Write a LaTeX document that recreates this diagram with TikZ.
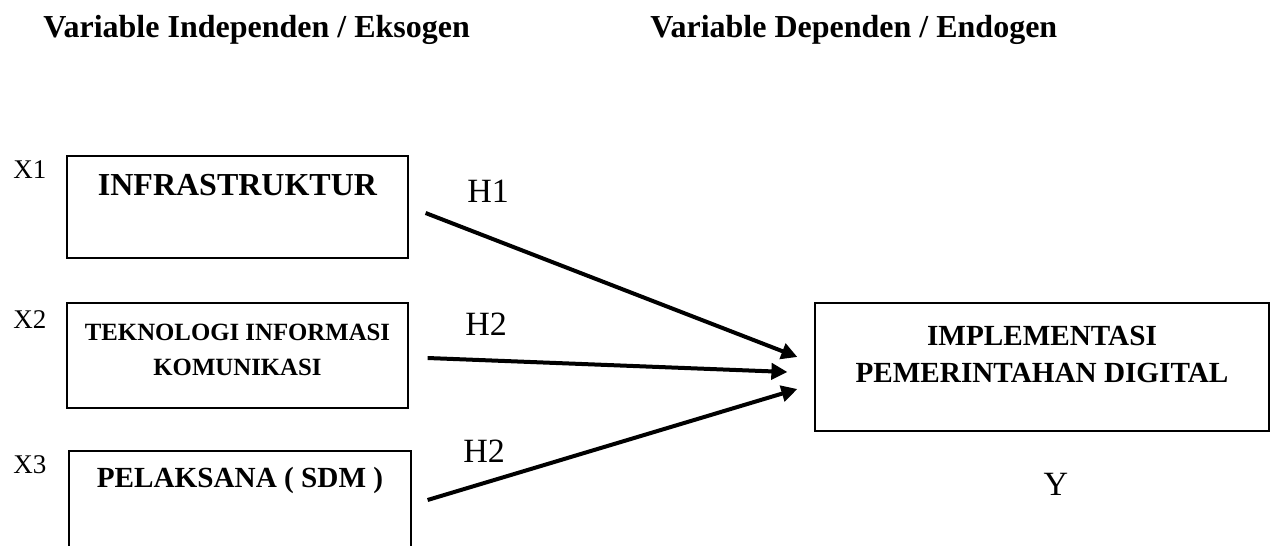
\documentclass[tikz,border=0pt]{standalone}
\usepackage{fontspec}
\setmainfont{Liberation Serif}
\usetikzlibrary{arrows.meta}

\begin{document}
\begin{tikzpicture}
  [x=0.5pt, y=-0.5pt,
   varbox/.style={rectangle, draw=black, line width=0.6pt, inner sep=0pt},
   boxtext/.style={anchor=base, align=center, inner sep=0pt},
   head/.style={anchor=base west, inner sep=0pt,
     font=\fontsize{16}{19}\selectfont\bfseries},
   tag/.style={anchor=base west, inner sep=0pt,
     font=\fontsize{13.5}{16}\selectfont},
   hyp/.style={anchor=base west, inner sep=0pt,
     font=\fontsize{17}{20}\selectfont},
   hyparrow/.style={line width=2pt,
     -{Triangle[length=8pt,width=8pt]}}]

  \clip (0,0) rectangle (1276,546);

  % headings
  \node[head] at (43,38) (hind) {Variable Independen / Eksogen};
  \node[head] at (650,38) (hdep) {Variable Dependen / Endogen};

  % exogenous variables
  \node[varbox, minimum width=170.5pt, minimum height=51pt]
    at (237.5,207) (infra) {};
  \node[boxtext, font=\fontsize{16}{19}\selectfont\bfseries]
    at (237.5,195) (infratext) {INFRASTRUKTUR};
  \node[tag] at (13,178) (x1) {X1};

  \node[varbox, minimum width=170.5pt, minimum height=52.5pt]
    at (237.5,355.5) (tik) {};
  \node[boxtext, font=\fontsize{12.4}{17.5}\selectfont\bfseries]
    at (237.5,375) (tiktext) {TEKNOLOGI INFORMASI\\KOMUNIKASI};
  \node[tag] at (13,328) (x2) {X2};

  \node[varbox, minimum width=171pt, minimum height=54.5pt]
    at (240,505.5) (sdm) {};
  \node[boxtext, font=\fontsize{14.6}{18}\selectfont\bfseries]
    at (240,487) (sdmtext) {PELAKSANA ( SDM )};
  \node[tag] at (13,473) (x3) {X3};

  % endogenous variable
  \node[varbox, minimum width=227pt, minimum height=64pt]
    at (1042,367) (digital) {};
  \node[boxtext, font=\fontsize{14.6}{18.5}\selectfont\bfseries]
    at (1042,382) (digitaltext) {IMPLEMENTASI\\PEMERINTAHAN DIGITAL};
  \node[boxtext, font=\fontsize{17}{20}\selectfont]
    at (1056,495) (y) {Y};

  % hypotheses
  \draw[hyparrow] ([shift={(17,6)}]infra.east)
    -- ([shift={(-17,-10)}]digital.west);
  \draw[hyparrow] ([shift={(19,2.5)}]tik.east)
    -- ([shift={(-27,5)}]digital.west);
  \draw[hyparrow] ([shift={(16,-5.5)}]sdm.east)
    -- ([shift={(-17,22)}]digital.west);

  \node[hyp] at (467,202) (h1) {H1};
  \node[hyp] at (465,335) (h2) {H2};
  \node[hyp] at (463,462) (h3) {H2};
\end{tikzpicture}
\end{document}
